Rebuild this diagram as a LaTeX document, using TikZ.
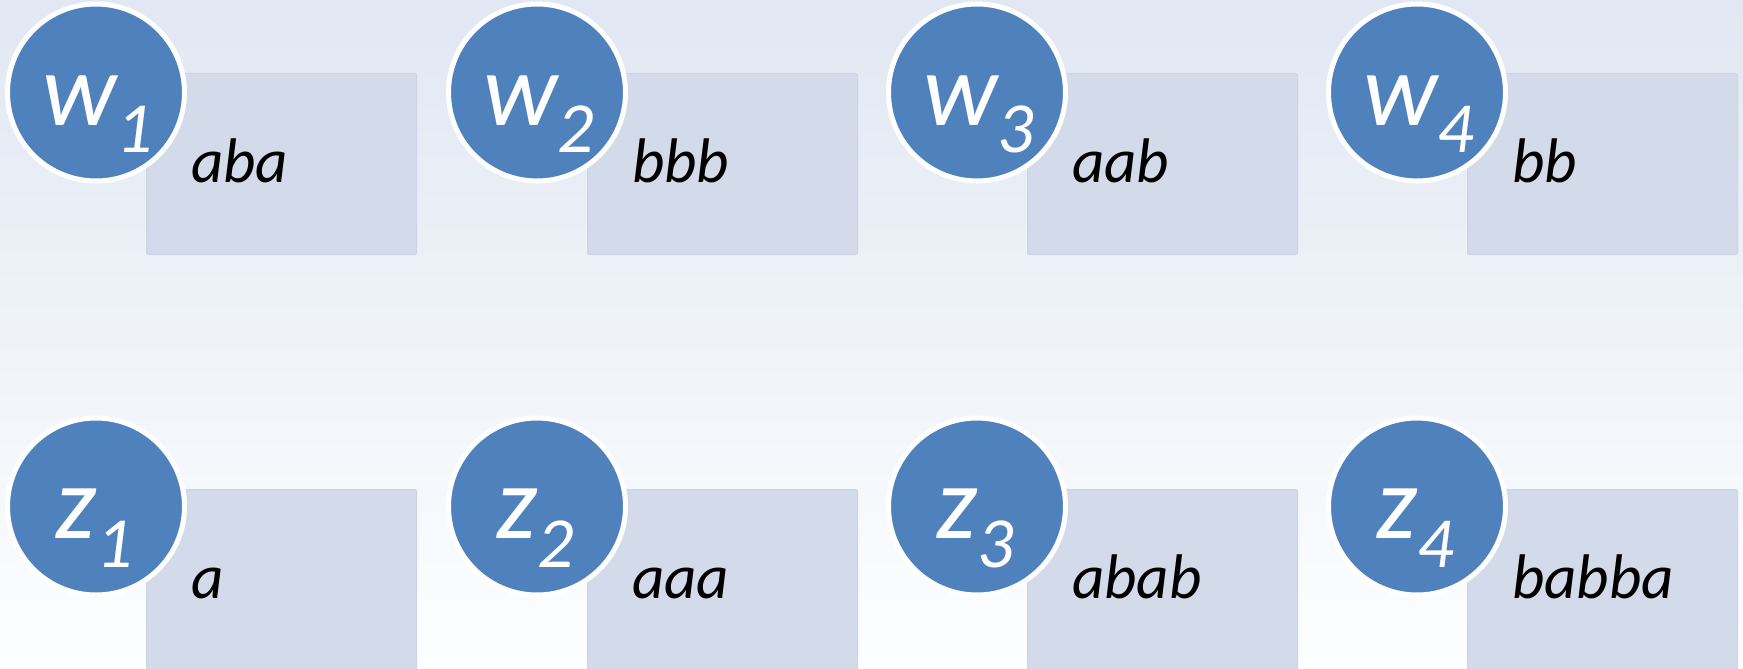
\documentclass[tikz,border=0pt]{standalone}
\usepackage{fontspec}
\setmainfont{Carlito}
\definecolor{bgtop}{RGB}{225,232,243}
\definecolor{bgbot}{RGB}{253,254,255}
\definecolor{cardfill}{RGB}{211,218,233}
\definecolor{cardline}{RGB}{203,211,229}
\definecolor{discblue}{RGB}{79,129,189}
\tikzset{
  card/.style={draw=cardline, line width=1pt, fill=cardfill, rounded corners=2pt,
    minimum width=270pt, minimum height=181pt, anchor=north west, inner sep=0pt},
  disc/.style={circle, draw=white, line width=5pt, fill=discblue,
    minimum size=177pt, inner sep=0pt},
  disclabel/.style={text=white, anchor=base west, inner sep=0pt, font=\itshape},
  cardtext/.style={anchor=base west, inner sep=0pt, font=\itshape\fontsize{63}{63}\selectfont},
}
\begin{document}
\begin{tikzpicture}[x=1pt, y=-1pt]
  \useasboundingbox (0,0) rectangle (1743,669);
  % soft vertical background wash
  \fill[top color=bgtop, bottom color=bgbot] (0,0) rectangle (1743,669);
  % upper row: w_i
  \foreach \i/\cx/\txt in {1/96/aba, 2/537/bbb, 3/977/aab, 4/1417/bb} {
    \node[card] (rw\i) at (\cx+50, 73) {};
    \node[disc] (cw\i) at (\cx, 92.5) {};
    \node[disclabel] (lw\i) at ([shift={(-54,33)}]cw\i.center)
      {\fontsize{104}{104}\selectfont w\fontsize{72}{72}\selectfont\raisebox{-27pt}{\i}};
    \node[cardtext] (tw\i) at ([shift={(45,109)}]rw\i.north west) {\txt};
  }
  % lower row: z_i
  \foreach \i/\cx/\txt in {1/96/a, 2/537/aaa, 3/977/abab, 4/1417/babba} {
    \node[card] (rz\i) at (\cx+50, 489) {};
    \node[disc] (cz\i) at (\cx, 506.5) {};
    \node[disclabel] (lz\i) at ([shift={(-41,32)}]cz\i.center)
      {\fontsize{104}{104}\selectfont z\fontsize{72}{72}\selectfont\raisebox{-29pt}{\i}};
    \node[cardtext] (tz\i) at ([shift={(45,109)}]rz\i.north west) {\txt};
  }
\end{tikzpicture}
\end{document}
